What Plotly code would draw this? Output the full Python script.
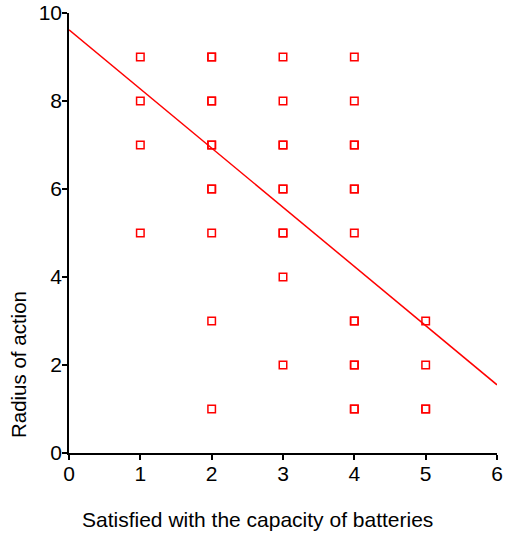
import plotly.graph_objects as go

# Survey responses: battery satisfaction score vs. radius-of-action score
sat_x = [1, 1, 1, 1,
         2, 2, 2, 2, 2, 2, 2, 2, 2, 2, 2,
         3, 3, 3, 3, 3, 3, 3, 3, 3, 3,
         4, 4, 4, 4, 4, 4, 4, 4, 4, 4, 4, 4, 4,
         5, 5, 5, 5]
radius_y = [9, 8, 7, 5,
            9, 9, 8, 8, 7, 7, 6, 6, 5, 3, 1,
            9, 8, 7, 7, 6, 6, 5, 5, 4, 2,
            9, 8, 7, 7, 6, 6, 5, 3, 3, 2, 2, 1, 1,
            3, 2, 1, 1]

# Linear trend line endpoints
fit_x = [0, 6]
fit_y = [9.62, 1.55]

RED = "#ff0000"
FONT = "Liberation Sans, Arial, sans-serif"

fig = go.Figure()
fig.add_trace(go.Scatter(
    x=fit_x, y=fit_y, mode="lines",
    line=dict(color=RED, width=1.5), hoverinfo="skip", showlegend=False))
fig.add_trace(go.Scatter(
    x=sat_x, y=radius_y, mode="markers",
    marker=dict(symbol="square-open", size=7.5, color=RED, line=dict(width=1.5)),
    showlegend=False))

axis_common = dict(
    showgrid=False, zeroline=False, showline=True, linecolor="black", linewidth=1.5,
    ticks="outside", ticklen=5, tickwidth=1.5, tickcolor="black", automargin=False,
    tickfont=dict(family=FONT, size=21, color="black"),
)

fig.update_xaxes(range=[0, 6], tickvals=[0, 1, 2, 3, 4, 5, 6], ticklabelstandoff=-4, **axis_common)
fig.update_yaxes(range=[0, 10], tickvals=[0, 2, 4, 6, 8, 10], ticklabelstandoff=-4, **axis_common)

fig.add_annotation(text="Satisfied with the capacity of batteries", xref="paper", yref="paper",
                   x=0.026, y=-0.152, xanchor="left", yanchor="middle", showarrow=False,
                   font=dict(family=FONT, size=21, color="black"))
fig.add_annotation(text="Radius of action", xref="paper", yref="paper",
                   x=-0.119, y=0.2, textangle=-90, xanchor="center", yanchor="middle",
                   showarrow=False, font=dict(family=FONT, size=20.5, color="black"))

fig.update_layout(
    width=507, height=533,
    margin=dict(l=69, r=10, t=13, b=80),
    plot_bgcolor="white", paper_bgcolor="white",
)

fig.write_html("out.html")
